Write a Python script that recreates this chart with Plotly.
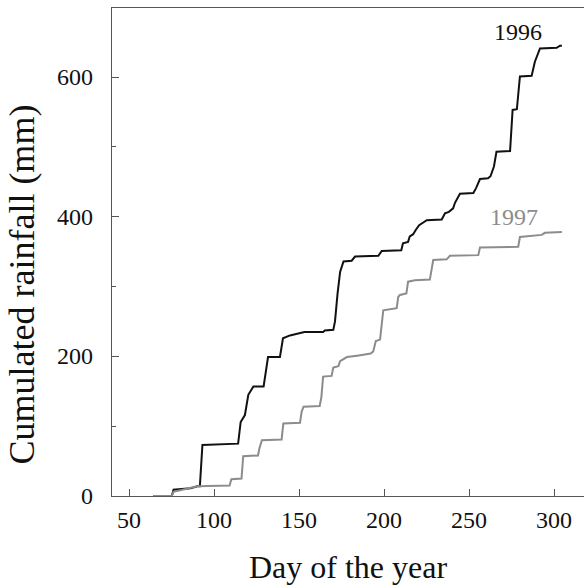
import plotly.graph_objects as go

# 1996 cumulated rainfall (day of year, mm)
days_1996 = [64, 75, 76, 80, 86, 90, 91.5, 93, 100, 114, 115.5, 118, 120, 123, 129, 130,
             131.6, 138.6, 140.4, 144.5, 153, 164, 165, 170, 171, 172.5, 174, 176, 180.8,
             182.8, 196.5, 198.5, 210, 211, 214, 215, 217, 218.5, 220.5, 225, 233.8, 235.7,
             238, 240.5, 241.6, 244.5, 252.4, 254, 256.3, 261, 262.5, 264.5, 266, 274, 275.5,
             278, 279.8, 286.7, 288.6, 291.6, 301.4, 303.4, 304.5]
rain_1996 = [0, 0, 9, 10, 11, 14, 14, 73, 74, 75, 106, 116, 145, 157, 157, 173,
             199, 199, 226, 230, 235, 235, 237, 238, 250, 290, 321, 336, 337,
             343, 344, 351, 352, 362, 364, 372, 375, 381, 388, 395, 396, 405,
             407, 412, 420, 433, 434, 441, 454, 455, 458, 472, 493, 494, 553,
             554, 601, 602, 622, 641, 642, 645, 645]

# 1997 cumulated rainfall (day of year, mm)
days_1997 = [64, 75, 76, 86, 90, 109, 110, 116, 117, 125.7, 126.5, 128, 139.6, 140.6, 150.4,
             151.4, 152.5, 162, 163, 164, 169, 170, 173, 174, 178, 184, 192, 193.5, 195,
             197.5, 199.4, 207.3, 208.2, 209.2, 213, 214, 218, 226.8, 228.8, 236.7, 238.6,
             255.3, 256.3, 278.8, 279.8, 292.6, 294.5, 304.5]
rain_1997 = [0, 0, 6, 12, 14, 15, 24, 25, 57, 58, 68, 80, 81, 104, 105,
             121, 128, 129, 142, 171, 172, 184, 186, 193, 199, 201, 204, 207, 222,
             224, 266, 269, 285, 288, 290, 307, 309, 310, 338, 339, 344,
             345, 356, 357, 371, 374, 377, 378]

x_ticks = [50, 100, 150, 200, 250, 300]
y_ticks = [0, 200, 400, 600]
y_minor_ticks = [100, 300, 500]

FONT = "Liberation Serif"
X_RANGE = [39.8, 317.5]
Y_RANGE = [0, 699]
AXCOL = "#555555"
TXT = "#111111"

fig = go.Figure()
fig.add_trace(go.Scatter(x=days_1997, y=rain_1997, mode="lines", xaxis="x2", yaxis="y2",
                         line=dict(color="#8c8c8c", width=2), showlegend=False))
fig.add_trace(go.Scatter(x=days_1996, y=rain_1996, mode="lines",
                         line=dict(color=TXT, width=2), showlegend=False))

fig.add_annotation(x=278.4, y=665, text="1996", showarrow=False,
                   font=dict(family=FONT, size=24, color=TXT))
fig.add_annotation(x=276.5, y=400, text="1997", showarrow=False,
                   font=dict(family=FONT, size=24, color="#8c8c8c"))

# y tick labels, placed on the y scale
for v in y_ticks:
    fig.add_annotation(xref="paper", yref="y", x=0, y=v, text=str(v), showarrow=False,
                       xanchor="right", yanchor="middle", xshift=-17,
                       font=dict(family=FONT, size=24, color=TXT))
# x tick labels, placed on the x scale
for v in x_ticks:
    fig.add_annotation(xref="x", yref="paper", x=v, y=0, text=str(v), showarrow=False,
                       xanchor="center", yanchor="middle", yshift=-24,
                       font=dict(family=FONT, size=24, color=TXT))

fig.add_annotation(xref="paper", yref="paper", x=0.5, y=-0.145, text="Day of the year",
                   showarrow=False, yanchor="middle",
                   font=dict(family=FONT, size=32, color=TXT))
fig.add_annotation(xref="paper", yref="paper", x=-0.19, y=0.434,
                   text="Cumulated rainfall (mm)", showarrow=False, textangle=-90,
                   xanchor="center", yanchor="middle",
                   font=dict(family=FONT, size=36, color=TXT))

fig.update_layout(
    xaxis=dict(range=X_RANGE, tickvals=x_ticks, ticks="", showticklabels=False,
               showline=True, linecolor=AXCOL, linewidth=1,
               mirror=True, showgrid=False, zeroline=False, automargin=False),
    yaxis=dict(range=Y_RANGE, tickvals=y_ticks, ticks="", showticklabels=False,
               showline=True, linecolor=AXCOL, linewidth=1,
               showgrid=False, zeroline=False, automargin=False),
    # overlay axes: the inside tick marks
    xaxis2=dict(range=X_RANGE, overlaying="x", anchor="y2", tickvals=x_ticks,
                ticks="inside", ticklen=7, tickcolor=AXCOL, showticklabels=False,
                showline=False, showgrid=False, zeroline=False),
    yaxis2=dict(range=Y_RANGE, overlaying="y", anchor="x2", tickvals=y_ticks,
                ticks="inside", ticklen=7, tickcolor=AXCOL, showticklabels=False,
                showline=False, showgrid=False, zeroline=False,
                minor=dict(tickvals=y_minor_ticks, ticks="inside", ticklen=4,
                           tickcolor=AXCOL, showgrid=False)),
    width=584, height=588, margin=dict(l=112, r=0, t=8, b=92),
    paper_bgcolor="white", plot_bgcolor="white",
)

fig.write_html("out.html")
